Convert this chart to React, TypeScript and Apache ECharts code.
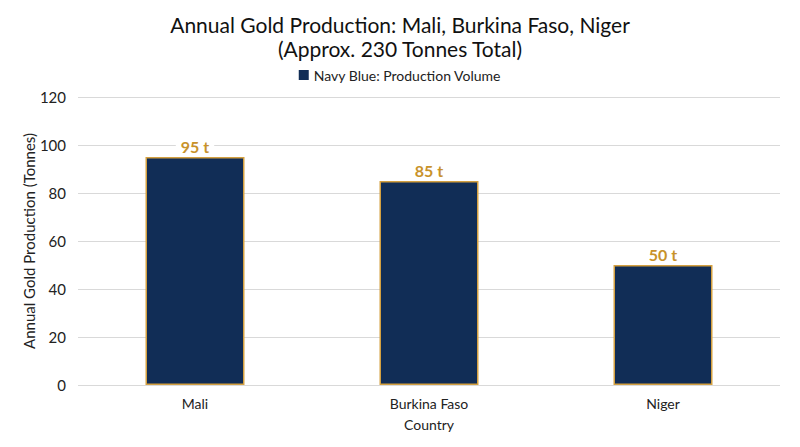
import React, { useRef, useEffect } from 'react';
import * as echarts from 'echarts';

const countries = ['Mali', 'Burkina Faso', 'Niger'];
const production = [95, 85, 50];
const seriesName = 'Navy Blue: Production Volume';

const FONT = 'Lato, "Noto Sans", sans-serif';

const App: React.FC = () => {
  const chartRef = useRef<HTMLDivElement>(null);

  useEffect(() => {
    document.body.style.margin = '0';
    if (!chartRef.current) return;
    const chart = echarts.init(chartRef.current, undefined, { renderer: 'svg' });

    chart.setOption({
      animation: false,
      backgroundColor: '#fff',
      textStyle: { fontFamily: FONT },
      title: {
        text: 'Annual Gold Production: Mali, Burkina Faso, Niger\n(Approx. 230 Tonnes Total)',
        left: 'center',
        top: 7,
        textStyle: {
          fontFamily: FONT,
          fontSize: 21,
          fontWeight: 'normal',
          color: '#111',
          lineHeight: 24,
        },
      },
      legend: {
        top: 63,
        left: 'center',
        itemWidth: 10,
        itemHeight: 10,
        itemGap: 10,
        icon: 'rect',
        itemStyle: { borderWidth: 0 },
        textStyle: { fontFamily: FONT, fontSize: 14, color: '#222' },
        data: [seriesName],
      },
      grid: {
        left: 78,
        right: 20,
        top: 97,
        bottom: 62,
        containLabel: false,
      },
      xAxis: {
        type: 'category',
        data: countries,
        name: 'Country',
        nameLocation: 'middle',
        nameGap: 32,
        nameTextStyle: { fontFamily: FONT, fontSize: 14, color: '#222' },
        axisLine: { show: false },
        axisTick: { show: false },
        axisLabel: { fontFamily: FONT, fontSize: 14, color: '#222', margin: 11 },
      },
      yAxis: {
        type: 'value',
        min: 0,
        max: 120,
        interval: 20,
        name: 'Annual Gold Production (Tonnes)',
        nameLocation: 'middle',
        nameGap: 42,
        nameMoveOverlap: false,
        nameTextStyle: { fontFamily: FONT, fontSize: 15, color: '#222' },
        axisLine: { show: false },
        axisTick: { show: false },
        axisLabel: { fontFamily: FONT, fontSize: 15, color: '#222', margin: 12 },
        splitLine: { lineStyle: { color: '#d9d9d9', width: 1 } },
      },
      series: [
        {
          name: seriesName,
          type: 'bar',
          data: production,
          barWidth: 99,
          itemStyle: {
            color: '#112d56',
            borderColor: '#d4a040',
            borderWidth: 1.5,
          },
          label: {
            show: true,
            position: 'top',
            distance: 3,
            formatter: '{c} t',
            fontFamily: FONT,
            fontSize: 16,
            fontWeight: 'bold',
            color: '#c8922a',
            backgroundColor: '#fff',
            padding: [0, 5],
          },
        },
      ],
    });

    return () => {
      chart.dispose();
    };
  }, []);

  return <div ref={chartRef} style={{ width: '800px', height: '447px' }} />;
};

export default App;
